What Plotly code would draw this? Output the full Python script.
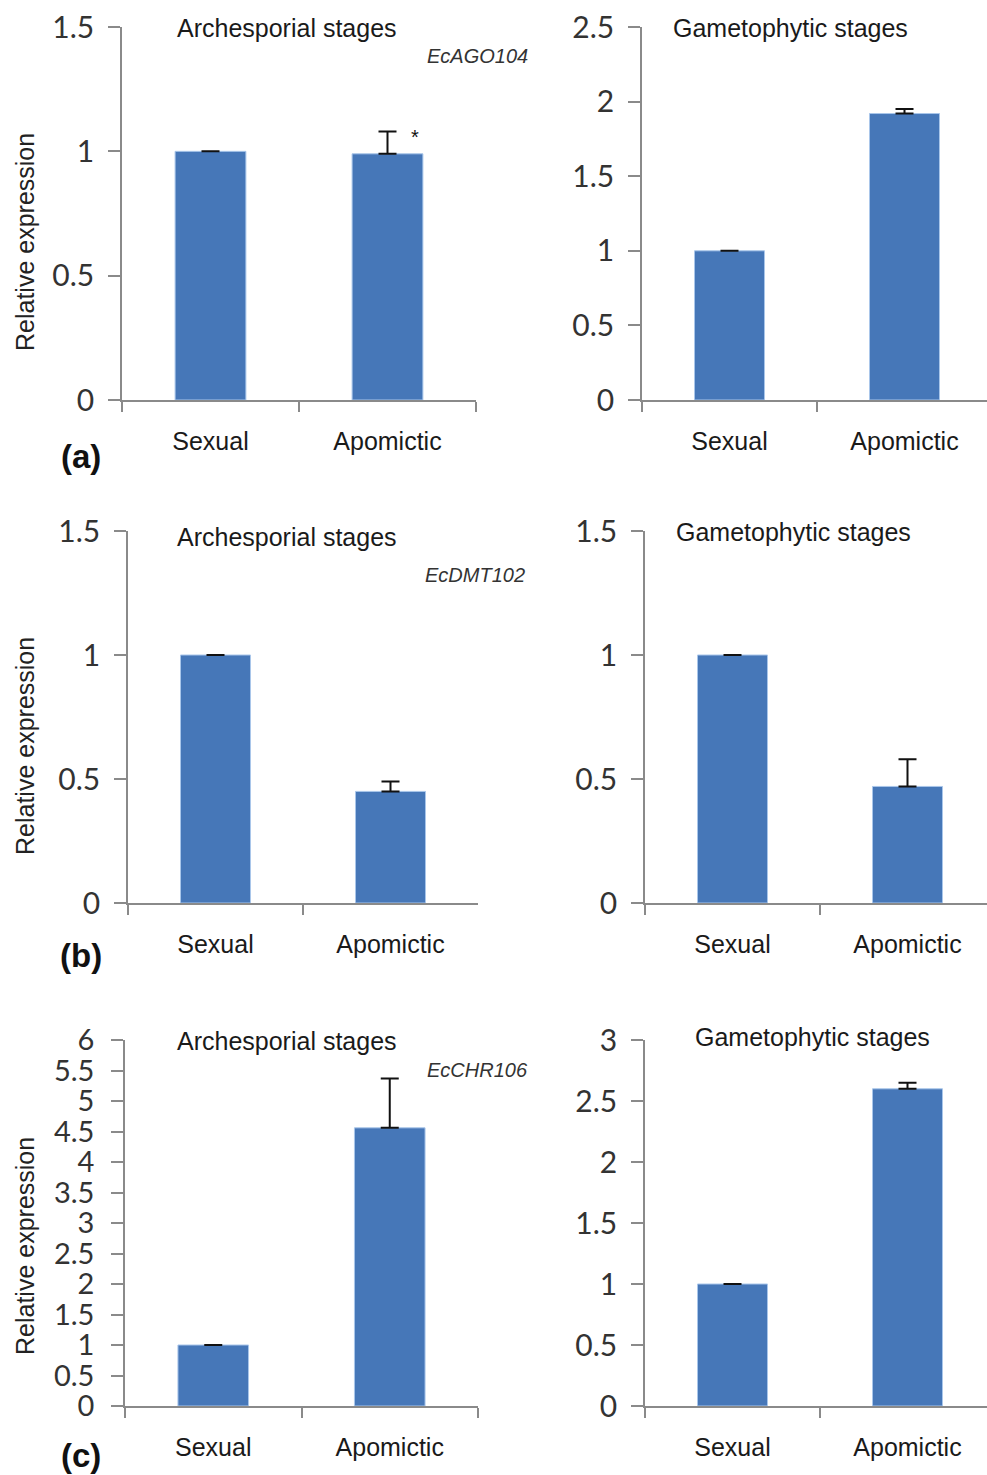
import plotly.graph_objects as go

W, H = 987, 1475

categories = ["Sexual", "Apomictic"]

# Row (a) EcAGO104
a_arch_vals = [1.0, 0.99]
a_arch_err = [0.0, 0.09]
a_game_vals = [1.0, 1.92]
a_game_err = [0.0, 0.03]
# Row (b) EcDMT102
b_arch_vals = [1.0, 0.45]
b_arch_err = [0.0, 0.04]
b_game_vals = [1.0, 0.47]
b_game_err = [0.0, 0.11]
# Row (c) EcCHR106
c_arch_vals = [1.0, 4.56]
c_arch_err = [0.0, 0.81]
c_game_vals = [1.0, 2.60]
c_game_err = [0.0, 0.05]

y_ranges = [[0, 1.5], [0, 2.5], [0, 1.5], [0, 1.5], [0, 6], [0, 3]]
y_dticks = [0.5, 0.5, 0.5, 0.5, 0.5, 0.5]
y_font_sizes = [30, 30, 30, 30, 29, 30]
y_standoffs = [8, 8, 8, 8, 11, 8]

gene_names = ["EcAGO104", "EcDMT102", "EcCHR106"]
panel_letters = ["(a)", "(b)", "(c)"]
stage_titles = ["Archesporial stages", "Gametophytic stages"]

BAR = "#4677b8"
EDGE = "#a9c6ea"
AXIS = "#8a8a8a"

def px_x(x):
    return x / W

def px_y(y):
    return 1 - y / H

# plot areas in pixels: (x0, x1, ytop, ybottom)
areas = [
    (122, 476, 27, 400),
    (642, 987, 27, 400),
    (128, 478, 531, 903),
    (645, 987, 531, 903),
    (125, 478, 1040, 1406),
    (645, 987, 1040, 1406),
]
cat_halfwidth_right = 175.0

series = [
    (a_arch_vals, a_arch_err), (a_game_vals, a_game_err),
    (b_arch_vals, b_arch_err), (b_game_vals, b_game_err),
    (c_arch_vals, c_arch_err), (c_game_vals, c_game_err),
]

fig = go.Figure()
layout = dict(
    width=W, height=H,
    margin=dict(l=0, r=0, t=0, b=0, pad=0, autoexpand=False),
    paper_bgcolor="white", plot_bgcolor="white", showlegend=False,
    bargap=0.6,
)

for i, ((vals, err), (x0, x1, yt, yb)) in enumerate(zip(series, areas)):
    n = i + 1
    xa = "x" if n == 1 else f"x{n}"
    ya = "y" if n == 1 else f"y{n}"
    fig.add_trace(go.Bar(
        x=categories, y=vals, xaxis=xa, yaxis=ya,
        marker=dict(color=BAR, line=dict(color=EDGE, width=1)),
        width=0.4,
        error_y=dict(type="data", symmetric=False, array=err,
                     arrayminus=[0] * len(err), color="#111111",
                     thickness=2, width=9),
    ))
    if i % 2 == 0:
        xr = [-0.5, 1.5]
    else:
        xr = [-0.5, -0.5 + (x1 - x0) / cat_halfwidth_right]
    key_x = "xaxis" if n == 1 else f"xaxis{n}"
    key_y = "yaxis" if n == 1 else f"yaxis{n}"
    layout[key_x] = dict(
        domain=[px_x(x0), px_x(x1)], anchor=ya, range=xr, automargin=False,
        type="category", tickson="boundaries", ticks="outside", ticklen=10,
        tickwidth=1.5, tickcolor=AXIS, showline=True, linecolor=AXIS,
        linewidth=1.5, showgrid=False, zeroline=False,
        tickfont=dict(family="Liberation Sans, Arial", size=25, color="#1a1a1a"),
        ticklabelstandoff=18,
    )
    layout[key_y] = dict(
        domain=[px_y(yb), px_y(yt)], anchor=xa, range=y_ranges[i], automargin=False,
        dtick=y_dticks[i], tick0=0, ticks="outside", ticklen=12,
        tickwidth=1.5, tickcolor=AXIS, showline=True, linecolor=AXIS,
        linewidth=1.5, showgrid=False, zeroline=False,
        tickfont=dict(family="Lato, Calibri, sans-serif", size=y_font_sizes[i],
                      color="#333333"),
        ticklabelstandoff=y_standoffs[i],
    )

fig.update_layout(**layout)

ann = []
# stage titles
title_pos = [
    (287, 28, 0), (790, 28, 1),
    (287, 537, 0), (793, 532, 1),
    (287, 1041, 0), (812, 1037, 1),
]
for (x, y, k) in title_pos:
    ann.append(dict(x=px_x(x), y=px_y(y), xref="paper", yref="paper",
                    text=stage_titles[k], showarrow=False,
                    font=dict(family="Liberation Sans, Arial", size=25, color="#1a1a1a"),
                    xanchor="center", yanchor="middle"))
# gene names
gene_pos = [(530, 56), (527, 575), (530, 1070)]
for g, (x, y) in zip(gene_names, gene_pos):
    ann.append(dict(x=px_x(x), y=px_y(y), xref="paper", yref="paper",
                    text=f"<i>{g}</i>", showarrow=False,
                    font=dict(family="Liberation Sans, Arial", size=20, color="#333333"),
                    xanchor="right", yanchor="middle"))
# y-axis titles
ytitle_pos = [242, 746, 1246]
for y in ytitle_pos:
    ann.append(dict(x=px_x(25), y=px_y(y), xref="paper", yref="paper",
                    text="Relative expression", showarrow=False, textangle=-90,
                    font=dict(family="Liberation Sans, Arial", size=25, color="#222222"),
                    xanchor="center", yanchor="middle"))
# panel letters
letter_pos = [456, 955, 1455]
for l, y in zip(panel_letters, letter_pos):
    ann.append(dict(x=px_x(81), y=px_y(y), xref="paper", yref="paper",
                    text=f"<b>{l}</b>", showarrow=False,
                    font=dict(family="Liberation Sans, Arial", size=33, color="#111111"),
                    xanchor="center", yanchor="middle"))
# significance asterisk
ann.append(dict(x=px_x(415), y=px_y(137), xref="paper", yref="paper",
                text="*", showarrow=False,
                font=dict(family="Liberation Sans, Arial", size=20, color="#111111"),
                xanchor="center", yanchor="middle"))

fig.update_layout(annotations=ann)
fig.write_html("out.html", config={"displayModeBar": False},
               post_script="document.body.style.margin='0';")
